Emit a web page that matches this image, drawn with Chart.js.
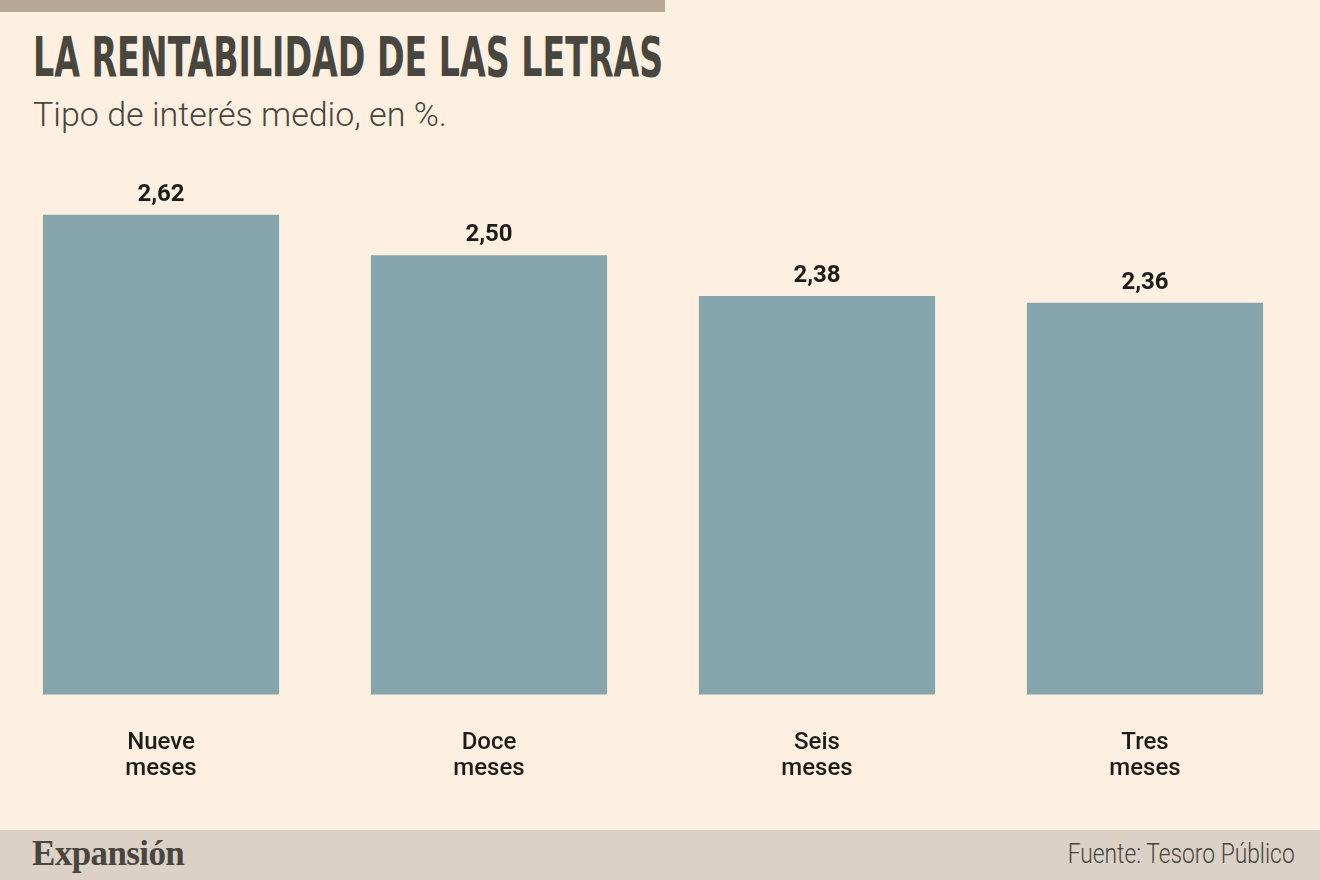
<!DOCTYPE html>
<html lang="es">
<head>
<meta charset="utf-8">
<title>La rentabilidad de las letras</title>
<script src="https://cdn.jsdelivr.net/npm/chart.js@4.4.1/dist/chart.umd.min.js"></script>
<style>
    html, body { margin: 0; padding: 0; }
    body {
        width: 1320px; height: 880px; position: relative; overflow: hidden;
        background: #fef0e0; font-family: 'Roboto', sans-serif; color: #4a4a42;
    }
    .top-strip { position: absolute; left: 0; top: 0; width: 665px; height: 12px; background: #b8a794; }
    .title {
        position: absolute; left: 33px; top: 24px; margin: 0;
        font-family: 'DejaVu Sans Condensed', 'DejaVu Sans', sans-serif; font-weight: bold;
        font-size: 55px; line-height: 66px; white-space: nowrap; color: #47463f;
        transform-origin: left top; transform: scaleX(0.672);
    }
    .subtitle {
        position: absolute; left: 33px; top: 92px; margin: 0;
        font-weight: 300; font-size: 34px; line-height: 44px; white-space: nowrap; color: #47463f;
        transform-origin: left top; transform: scaleX(1.0);
    }
    .chart-box { position: absolute; left: -3px; top: 0; width: 1312px; height: 830px; }
    .footer { position: absolute; left: 0; top: 830px; width: 1320px; height: 50px; background: #dcd1c6; }
    .logo {
        position: absolute; left: 32px; top: 4px;
        font-family: 'Liberation Serif', serif; font-weight: bold; font-size: 35px;
        letter-spacing: -0.6px; color: #47463f;
    }
    .source {
        position: absolute; right: 25px; top: 8px; white-space: nowrap;
        font-weight: 300; font-size: 27px; color: #47463f;
        transform-origin: right top; transform: scaleX(0.845);
    }
</style>
</head>
<body>
<div class="top-strip"></div>
<h1 class="title">LA RENTABILIDAD DE LAS LETRAS</h1>
<p class="subtitle">Tipo de interés medio, en %.</p>
<div class="chart-box"><canvas id="letrasChart"></canvas></div>
<div class="footer">
    <div class="logo">Expansión</div>
    <div class="source">Fuente: Tesoro Público</div>
</div>

<script>
// Plazos de las letras (etiquetas en dos líneas)
const categories = [
    ['Nueve', 'meses'],
    ['Doce', 'meses'],
    ['Seis', 'meses'],
    ['Tres', 'meses']
];

// Tipo de interés medio, en %
const rates = [2.62, 2.50, 2.38, 2.36];

(function() {
    'use strict';

    // Value labels on top of each bar, Spanish decimal comma
    const valueLabels = {
        id: 'valueLabels',
        afterDatasetsDraw: function(chart) {
            const ctx = chart.ctx;
            const meta = chart.getDatasetMeta(0);
            ctx.save();
            ctx.font = "bold 24px 'Roboto', sans-serif";
            ctx.fillStyle = '#1d1d1b';
            ctx.textAlign = 'center';
            ctx.textBaseline = 'alphabetic';
            meta.data.forEach(function(bar, i) {
                const text = rates[i].toFixed(2).replace('.', ',');
                ctx.fillText(text, bar.x, bar.y - 14);
            });
            ctx.restore();
        }
    };

    new Chart(document.getElementById('letrasChart'), {
        type: 'bar',
        data: {
            labels: categories,
            datasets: [{
                data: rates,
                backgroundColor: '#85a4ac',
                borderWidth: 0,
                barPercentage: 0.72,
                categoryPercentage: 1
            }]
        },
        options: {
            responsive: true,
            maintainAspectRatio: false,
            animation: false,
            layout: { padding: { top: 154, left: 0, right: 0, bottom: 0 } },
            plugins: {
                legend: { display: false },
                tooltip: { enabled: false }
            },
            scales: {
                x: {
                    grid: { display: false, drawTicks: false },
                    border: { display: false },
                    ticks: {
                        color: '#1d1d1b',
                        padding: 35,
                        font: { family: "'Roboto', sans-serif", size: 24, weight: '500', lineHeight: 1.1 }
                    },
                    afterFit: function(scale) { scale.height = 135.5; }
                },
                y: {
                    display: false,
                    min: 1.2,
                    max: 2.8
                }
            }
        },
        plugins: [valueLabels]
    });
})();
</script>
</body>
</html>
